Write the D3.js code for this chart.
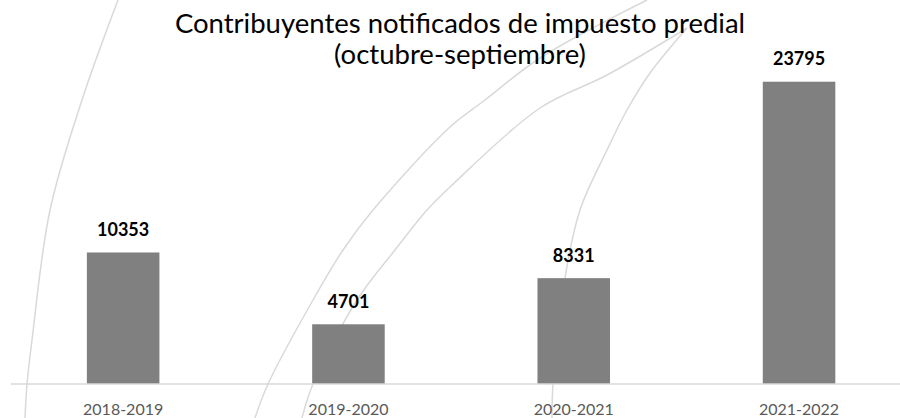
<!DOCTYPE html>
<html lang="es">
<head>
    <meta charset="UTF-8">
    <title>Contribuyentes notificados de impuesto predial</title>
    <script src="https://d3js.org/d3.v7.min.js"></script>
    <style>
        body { margin: 0; background: #fff; }
        svg { display: block; font-family: Lato, "Open Sans", sans-serif; }
    </style>
</head>
<body>
    <svg width="900" height="418"></svg>

    <script>
        const categories = ["2018-2019", "2019-2020", "2020-2021", "2021-2022"];
        const values = [10353, 4701, 8331, 23795];
        const titleLines = ["Contribuyentes notificados de impuesto predial", "(octubre-septiembre)"];

        const svg = d3.select("svg");
        const baseline = 384;

        // fondo decorativo: arcos grises
        const arcs = [
            [[118, 0], [82, 100], [50, 210], [32, 340], [27, 384], [25, 418]],
            [[647, 0], [540, 58], [485, 100], [450, 127], [373, 210], [343, 250], [313, 300], [268, 384], [255, 418]],
            [[687, 28], [607, 75], [540, 108], [450, 187], [427, 210], [395, 250], [357, 300], [313, 384], [302, 418]],
            [[687, 28], [650, 73], [627, 110], [607, 150], [580, 210], [565, 278], [553, 384], [552, 418]]
        ];
        const arcLine = d3.line().curve(d3.curveCatmullRom.alpha(0.5));
        svg.append("g")
            .selectAll("path")
            .data(arcs)
            .join("path")
            .attr("d", arcLine)
            .attr("fill", "none")
            .attr("stroke", "#d9d9d9")
            .attr("stroke-width", 1.5);

        const x = d3.scaleBand()
            .domain(categories)
            .range([10.5, 911.7])
            .paddingInner(0.678)
            .paddingOuter(0.339);

        const y = d3.scaleLinear()
            .domain([0, 25000])
            .range([baseline, 66.4]);

        svg.selectAll("rect.bar")
            .data(values)
            .join("rect")
            .attr("class", "bar")
            .attr("x", (d, i) => x(categories[i]))
            .attr("y", d => y(d))
            .attr("width", x.bandwidth())
            .attr("height", d => baseline - y(d))
            .attr("fill", "#808080");

        // eje x
        const axis = svg.append("g")
            .attr("transform", `translate(0,${baseline})`)
            .call(d3.axisBottom(x).tickSize(0).tickPadding(0));
        axis.select(".domain").remove();
        axis.selectAll("text")
            .attr("dy", null)
            .attr("y", 31)
            .attr("font-size", 16)
            .attr("font-family", "Lato, sans-serif")
            .attr("fill", "#595959");
        svg.append("line")
            .attr("x1", 11).attr("x2", 900)
            .attr("y1", baseline).attr("y2", baseline)
            .attr("stroke", "#d9d9d9")
            .attr("stroke-width", 1.5);

        // etiquetas de valor
        svg.selectAll("text.val")
            .data(values)
            .join("text")
            .attr("class", "val")
            .attr("x", (d, i) => x(categories[i]) + x.bandwidth() / 2)
            .attr("y", d => y(d) - 16.5)
            .attr("text-anchor", "middle")
            .attr("font-size", 18)
            .attr("font-weight", "bold")
            .attr("fill", "#000")
            .text(d => d);

        // título
        svg.selectAll("text.title")
            .data(titleLines)
            .join("text")
            .attr("class", "title")
            .attr("x", 460)
            .attr("y", (d, i) => 33 + i * 31)
            .attr("text-anchor", "middle")
            .attr("font-size", 27.5)
            .attr("fill", "#000")
            .text(d => d);
    </script>
</body>
</html>
